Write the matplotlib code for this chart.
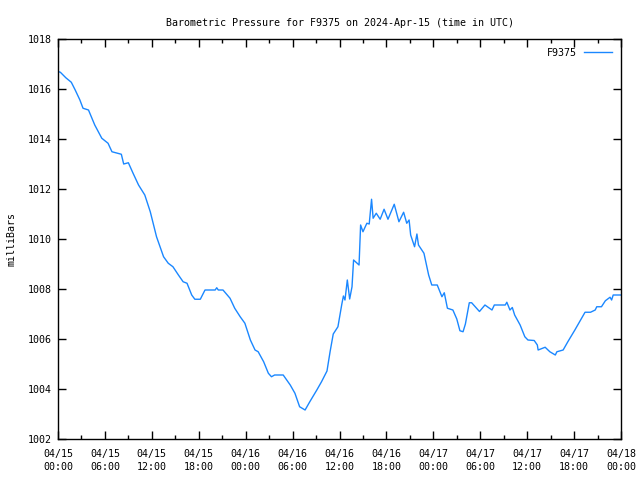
import matplotlib
matplotlib.use("Agg")
import matplotlib.pyplot as plt
from matplotlib.ticker import MultipleLocator, FixedLocator

hours = [0.0, 0.3, 1.0, 1.7, 2.2, 2.8, 3.2, 3.9, 4.7, 5.6, 6.4, 6.9, 8.1, 8.4, 9.0, 9.6,
         10.3, 11.1, 11.8, 12.6, 13.5, 14.1, 14.7, 15.4, 16.0, 16.5, 17.1, 17.5, 18.2,
         18.8, 20.1, 20.3, 20.5, 21.1, 22.0, 22.6, 23.3, 23.9, 24.6, 25.2, 25.6, 26.3,
         26.9, 27.3, 27.7, 28.8, 29.7, 30.3, 30.9, 31.6, 32.2, 33.1, 33.7, 34.4, 34.8,
         35.2, 35.8, 36.3, 36.5, 36.7, 37.0, 37.3, 37.6, 37.8, 38.5, 38.7, 39.0, 39.5,
         39.8, 40.1, 40.3, 40.7, 41.2, 41.7, 42.2, 43.0, 43.6, 44.2, 44.6, 44.9, 45.1,
         45.6, 45.9, 46.1, 46.8, 47.4, 47.8, 48.5, 49.1, 49.4, 49.8, 50.5, 51.0, 51.4,
         51.8, 52.1, 52.6, 52.9, 53.9, 54.6, 55.5, 55.8, 57.2, 57.4, 57.8, 58.1, 58.4,
         59.1, 59.7, 60.1, 60.9, 61.3, 61.4, 62.3, 62.9, 63.6, 63.8, 64.6, 65.2, 66.1,
         66.7, 67.4, 68.1, 68.7, 68.9, 69.5, 70.0, 70.6, 70.8, 71.0, 72.0]
pressure = [1016.70, 1016.67, 1016.45, 1016.27, 1015.96, 1015.56, 1015.23, 1015.16, 1014.56,
            1014.03, 1013.83, 1013.49, 1013.39, 1013.00, 1013.05, 1012.63, 1012.16, 1011.76,
            1011.09, 1010.09, 1009.29, 1009.03, 1008.89, 1008.56, 1008.29, 1008.23, 1007.76,
            1007.59, 1007.59, 1007.96, 1007.96, 1008.05, 1007.96, 1007.96, 1007.63, 1007.23,
            1006.89, 1006.63, 1005.96, 1005.56, 1005.49, 1005.09, 1004.63, 1004.49, 1004.56,
            1004.56, 1004.16, 1003.83, 1003.29, 1003.16, 1003.49, 1003.96, 1004.29, 1004.72,
            1005.50, 1006.20, 1006.49, 1007.40, 1007.72, 1007.56, 1008.36, 1007.60, 1008.09,
            1009.16, 1008.96, 1010.56, 1010.29, 1010.63, 1010.60, 1011.59, 1010.83, 1011.03,
            1010.79, 1011.19, 1010.79, 1011.39, 1010.69, 1011.07, 1010.63, 1010.76, 1010.16,
            1009.69, 1010.20, 1009.76, 1009.43, 1008.56, 1008.16, 1008.16, 1007.69, 1007.85,
            1007.23, 1007.16, 1006.80, 1006.33, 1006.29, 1006.60, 1007.45, 1007.45, 1007.10,
            1007.36, 1007.16, 1007.36, 1007.36, 1007.47, 1007.16, 1007.26, 1006.96, 1006.56,
            1006.09, 1005.96, 1005.94, 1005.76, 1005.56, 1005.67, 1005.49, 1005.36, 1005.49,
            1005.56, 1005.89, 1006.36, 1006.69, 1007.07, 1007.07, 1007.16, 1007.29, 1007.29,
            1007.53, 1007.67, 1007.56, 1007.76, 1007.76]
tick_hours = [0, 6, 12, 18, 24, 30, 36, 42, 48, 54, 60, 66, 72]
tick_labels = ["04/15\n00:00", "04/15\n06:00", "04/15\n12:00", "04/15\n18:00",
               "04/16\n00:00", "04/16\n06:00", "04/16\n12:00", "04/16\n18:00",
               "04/17\n00:00", "04/17\n06:00", "04/17\n12:00", "04/17\n18:00",
               "04/18\n00:00"]

plt.rcParams['font.family'] = ['DejaVu Sans Mono']
fs = 7.2

fig = plt.figure(figsize=(6.4, 4.8), dpi=100)
ax = fig.add_axes([58/640, 41/480, (621-58)/640, (439-39)/480])
ax.plot(hours, pressure, color='#1a87ff', lw=1.0, label='F9375')
ax.set_xlim(0, 72)
ax.set_ylim(1002, 1018)
ax.xaxis.set_major_locator(FixedLocator(tick_hours))
ax.set_xticklabels(tick_labels, fontsize=fs, linespacing=1.35)
ax.xaxis.set_minor_locator(MultipleLocator(3))
ax.yaxis.set_major_locator(MultipleLocator(2))
ax.tick_params(axis='both', which='major', direction='in', length=6, width=1,
               top=True, right=True, labelsize=fs)
ax.tick_params(axis='x', which='major', pad=7.5)
ax.tick_params(axis='y', which='major', pad=4.5)
ax.tick_params(axis='x', which='minor', direction='in', length=3, width=1,
               top=True, bottom=True)
for s in ax.spines.values():
    s.set_linewidth(1)
ax.set_ylabel('milliBars', fontsize=fs, labelpad=8)
ax.set_title('Barometric Pressure for F9375 on 2024-Apr-15 (time in UTC)',
             fontsize=fs, pad=9)
leg = ax.legend(loc='upper right', frameon=False, fontsize=fs, markerfirst=False,
                handlelength=2.8, handletextpad=0.7, borderaxespad=0.5)
fig.savefig('out.png', dpi=100)
